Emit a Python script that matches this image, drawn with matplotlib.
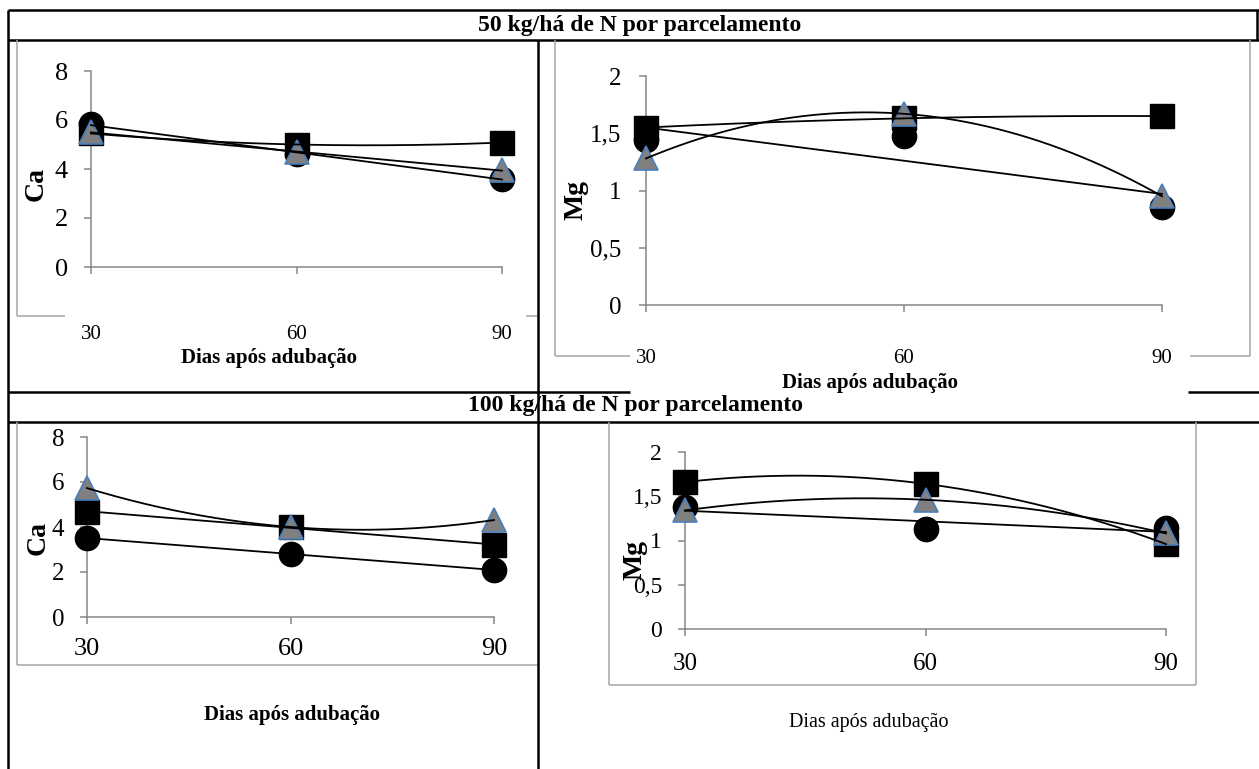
import numpy as np
import matplotlib
matplotlib.use("Agg")
import matplotlib.pyplot as plt
from matplotlib.patches import Rectangle

plt.rcParams['font.family'] = ['Liberation Serif', 'DejaVu Serif']

W, H = 1259, 769

# days after fertilization
dias = [30, 60, 90]

# Ca, 50 kg/ha
ca50_circulo = [5.82, 4.62, 3.60]
ca50_quadrado = [5.45, 5.00, 5.08]
ca50_triangulo = [5.50, 4.70, 3.94]

# Mg, 50 kg/ha
mg50_circulo = [1.44, 1.48, 0.86]
mg50_quadrado = [1.55, 1.63, 1.65]
mg50_triangulo = [1.28, 1.67, 0.95]

# Ca, 100 kg/ha
ca100_circulo = [3.51, 2.80, 2.09]
ca100_quadrado = [4.68, 4.01, 3.20]
ca100_triangulo = [5.73, 4.00, 4.31]

# Mg, 100 kg/ha
mg100_circulo = [1.38, 1.13, 1.14]
mg100_quadrado = [1.66, 1.64, 0.96]
mg100_triangulo = [1.34, 1.46, 1.08]

ca_ticks = [0, 2, 4, 6, 8]
ca_labels = ['0', '2', '4', '6', '8']
mg_ticks = [0, 0.5, 1, 1.5, 2]
mg_labels = ['0', '0,5', '1', '1,5', '2']

GRAY_AX = '#868686'
GRAY_FRAME = '#a6a6a6'
TRI_FACE = '#808080'
TRI_EDGE = '#4a7ebb'

fig = plt.figure(figsize=(W / 100, H / 100), dpi=100)

# background axes in pixel units for the table grid
bg = fig.add_axes([0, 0, 1, 1])
bg.set_xlim(0, W)
bg.set_ylim(H, 0)
bg.axis('off')


def hline(y, x0, x1, color='black', lw=1.8):
    bg.plot([x0, x1], [y, y], color=color, lw=lw, solid_capstyle='butt')


def vline(x, y0, y1, color='black', lw=1.8):
    bg.plot([x, x], [y0, y1], color=color, lw=lw, solid_capstyle='butt')


# table lines
hline(10, 8, W)
vline(8, 10, H)
vline(1257, 10, 40)
hline(40, 8, W)
vline(538, 40, H)
hline(392, 8, 630)
hline(392, 1188, W)
hline(422, 8, W)

# chart area frames
vline(17, 40, 316, GRAY_FRAME, 1.1)
hline(316, 17, 65, GRAY_FRAME, 1.1)
hline(316, 526, 537, GRAY_FRAME, 1.1)

vline(555, 40, 356, GRAY_FRAME, 1.1)
vline(1250, 40, 356, GRAY_FRAME, 1.1)
hline(356, 555, 630, GRAY_FRAME, 1.1)
hline(356, 1190, 1250, GRAY_FRAME, 1.1)

vline(17, 422, 665, GRAY_FRAME, 1.1)
hline(665, 17, 537, GRAY_FRAME, 1.1)

vline(609, 422, 685, GRAY_FRAME, 1.1)
vline(1196, 422, 685, GRAY_FRAME, 1.1)
hline(685, 609, 1196, GRAY_FRAME, 1.1)

bg.text(640, 26, '50 kg/há de N por parcelamento', ha='center', va='center',
        fontsize=17, fontweight='bold')
bg.text(636, 405, '100 kg/há de N por parcelamento', ha='center', va='center',
        fontsize=17, fontweight='bold')


def painel(box, circ, quad, tri, trends, ticks, labels, ylab, ylab_xy,
           xlab_xy, ysize, xsize, xpad, ypad, xlab_bold=True, clip_xlab=None):
    x0, y0, x1, y1 = box
    ax = fig.add_axes([x0 / W, 1 - y1 / H, (x1 - x0) / W, (y1 - y0) / H])
    ax.set_facecolor('none')
    ax.set_xlim(30, 90)
    ax.set_ylim(ticks[0], ticks[-1])
    for s in ('top', 'right'):
        ax.spines[s].set_visible(False)
    for s in ('left', 'bottom'):
        ax.spines[s].set_color(GRAY_AX)
        ax.spines[s].set_linewidth(1.1)
    ax.set_xticks(dias)
    ax.set_xticklabels([str(d) for d in dias])
    ax.set_yticks(ticks)
    ax.set_yticklabels(labels)
    ax.tick_params(axis='x', direction='out', length=5, width=1.1,
                   color=GRAY_AX, labelsize=xsize, pad=xpad)
    ax.tick_params(axis='y', direction='out', length=5, width=1.1,
                   color=GRAY_AX, labelsize=ysize, pad=ypad)

    ax.plot(dias, circ, ls='none', marker='o', ms=17.5, color='black',
            clip_on=False, zorder=3)
    ax.plot(dias, quad, ls='none', marker='s', ms=17.5, color='black',
            clip_on=False, zorder=3)
    ax.plot(dias, tri, ls='none', marker='^', ms=17.5, mfc=TRI_FACE,
            mec=TRI_EDGE, mew=1.2, clip_on=False, zorder=3)

    # trend lines (linear or 2nd order polynomial)
    xs = np.linspace(30, 90, 200)
    for vals, deg in zip((circ, quad, tri), trends):
        coef = np.polyfit(dias, vals, deg)
        ax.plot(xs, np.polyval(coef, xs), color='black', lw=1.3,
                clip_on=False, zorder=5)

    bg.text(ylab_xy[0], ylab_xy[1], ylab, rotation=90, ha='center',
            va='center', fontsize=20, fontweight='bold', zorder=6)
    t = bg.text(xlab_xy[0], xlab_xy[1], 'Dias após adubação', ha='center',
                va='center', fontsize=15 if xlab_bold else 14.5,
                fontweight='bold' if xlab_bold else 'normal')
    if clip_xlab is not None:
        r = Rectangle((clip_xlab[0], clip_xlab[1]), clip_xlab[2], clip_xlab[3],
                      transform=bg.transData, fc='none', ec='none')
        bg.add_patch(r)
        t.set_clip_path(r)
    return ax


painel((91, 71, 502, 267), ca50_circulo, ca50_quadrado, ca50_triangulo,
       (1, 2, 1), ca_ticks, ca_labels, 'Ca', (36, 184), (269, 358),
       19, 15, 37, 11.5)

painel((646, 76, 1162, 305), mg50_circulo, mg50_quadrado, mg50_triangulo,
       (1, 2, 2), mg_ticks, mg_labels, 'Mg', (576, 200), (870, 383),
       18, 15, 27, 13, clip_xlab=(630, 330, 558, 61))

painel((87, 437, 494, 617), ca100_circulo, ca100_quadrado, ca100_triangulo,
       (1, 1, 2), ca_ticks, ca_labels, 'Ca', (38, 538), (292, 715),
       18, 19, 10, 11.5)

painel((685, 452, 1166, 629), mg100_circulo, mg100_quadrado, mg100_triangulo,
       (1, 2, 2), mg_ticks, mg_labels, 'Mg', (635, 560), (869, 723),
       17, 18, 12, 11.5, xlab_bold=False)

fig.savefig('out.png', dpi=100)
